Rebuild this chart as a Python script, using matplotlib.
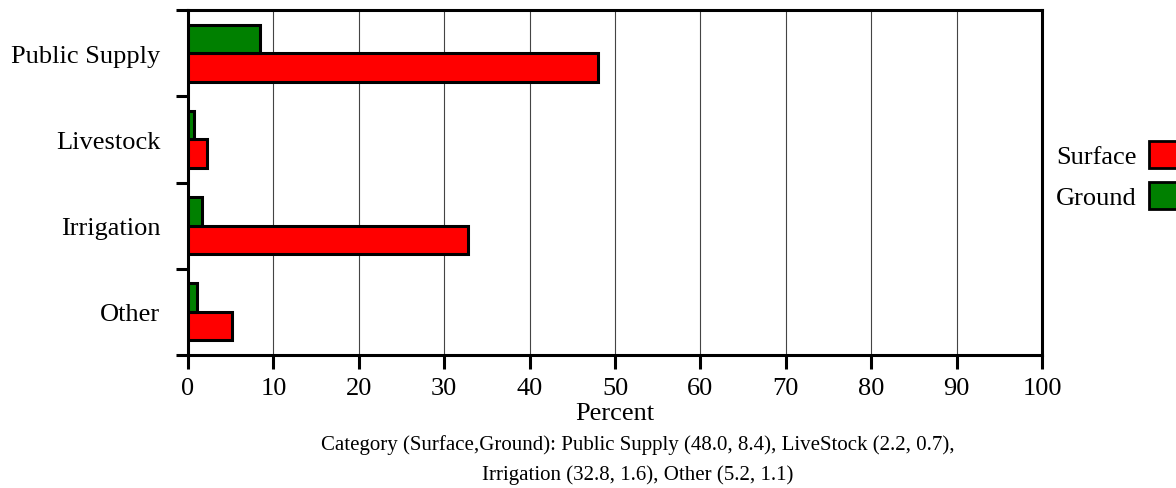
import matplotlib
matplotlib.use('Agg')
import numpy as np
import matplotlib.pyplot as plt
from matplotlib.patches import Patch

# Data
categories = ['Public Supply', 'Livestock', 'Irrigation', 'Other']
surface = [48.0, 2.2, 32.8, 5.2]
ground = [8.4, 0.7, 1.6, 1.1]
xticks = list(range(0, 101, 10))
caption_1 = 'Category (Surface,Ground): Public Supply (48.0, 8.4), LiveStock (2.2, 0.7),'
caption_2 = 'Irrigation (32.8, 1.6), Other (5.2, 1.1)'

plt.rcParams['font.family'] = ['Liberation Serif', 'DejaVu Serif']

W, H = 1176, 489
fig = plt.figure(figsize=(W / 100, H / 100), dpi=100)
ax = fig.add_axes([188 / W, 1 - 356 / H, (1042 - 188) / W, (356 - 11) / H])

y = np.arange(len(categories))
bh = 0.33
ax.barh(y + bh / 2, surface, height=bh, color='#ff0000', edgecolor='black', linewidth=2.2, zorder=3)
ax.barh(y - bh / 2, ground, height=bh, color='#008000', edgecolor='black', linewidth=2.2, zorder=3)

ax.set_xlim(0, 100)
ax.set_ylim(len(categories) - 0.5, -0.5)

# x axis
ax.set_xticks(xticks)
ax.set_xticklabels([str(t) for t in xticks], fontsize=19)
ax.tick_params(axis='x', direction='out', length=10, width=2.2, pad=6)
ax.grid(axis='x', color='#444444', linewidth=0.8, zorder=0)
ax.set_axisbelow(True)
ax.set_xlabel('Percent', fontsize=19, labelpad=2)

# y axis: labels at band centres, ticks at band boundaries
ax.set_yticks(y)
ax.set_yticklabels(categories, fontsize=19)
ax.set_yticks(np.arange(len(categories) + 1) - 0.5, minor=True)
ax.tick_params(axis='y', which='major', length=0, pad=20)
ax.tick_params(axis='y', which='minor', direction='out', length=8.6, width=2.2)

for s in ax.spines.values():
    s.set_linewidth(2.2)

# legend outside on the right, text before marker
handles = [Patch(facecolor='#ff0000', edgecolor='black', linewidth=2),
           Patch(facecolor='#008000', edgecolor='black', linewidth=2)]
fig.legend(handles, ['Surface', 'Ground'], loc='upper left',
           bbox_to_anchor=(1056 / W, 1 - 142 / H), frameon=False,
           markerfirst=False, fontsize=19, borderpad=0, borderaxespad=0,
           handlelength=1.2, handleheight=1.2, handletextpad=0.45,
           labelspacing=0.5)

fig.text(638 / W, 1 - 445 / H, caption_1, ha='center', va='center', fontsize=15)
fig.text(638 / W, 1 - 475 / H, caption_2, ha='center', va='center', fontsize=15)

fig.savefig('out.png', dpi=100)
